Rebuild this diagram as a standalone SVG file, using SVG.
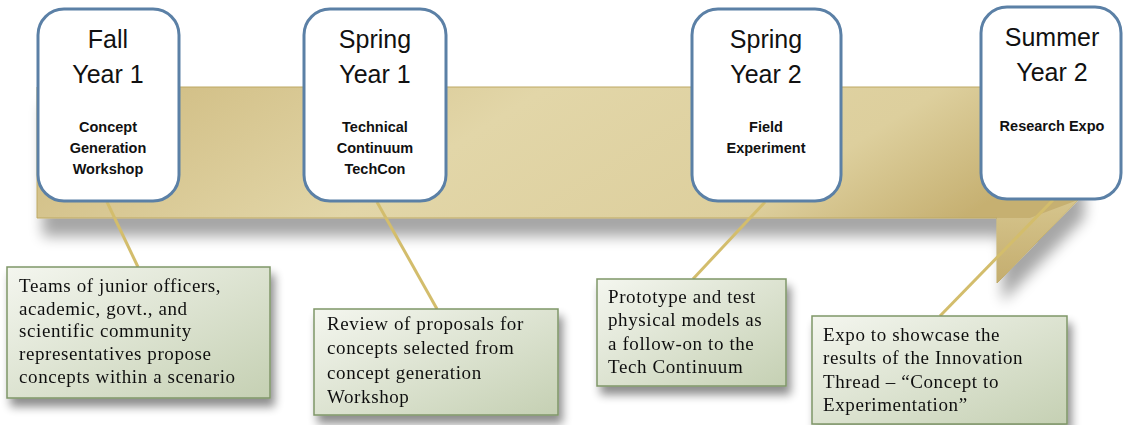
<svg xmlns="http://www.w3.org/2000/svg" width="1123" height="425" viewBox="0 0 1123 425">
<defs>
<linearGradient id="band" x1="0" y1="0" x2="1" y2="0.3">
<stop offset="0" stop-color="#cdb87c"/>
<stop offset="0.45" stop-color="#e2d6a8"/>
<stop offset="0.8" stop-color="#ddcf9d"/>
<stop offset="1" stop-color="#c6b071"/>
</linearGradient>
<linearGradient id="tail" x1="0" y1="0" x2="0" y2="1">
<stop offset="0" stop-color="#d6c58d"/>
<stop offset="1" stop-color="#c4ad6e"/>
</linearGradient>
<linearGradient id="note" x1="0" y1="0" x2="1" y2="1">
<stop offset="0" stop-color="#f4f6ef"/>
<stop offset="1" stop-color="#c5d0b3"/>
</linearGradient>
<filter id="shadow" x="-10%" y="-10%" width="130%" height="150%">
<feGaussianBlur in="SourceAlpha" stdDeviation="5"/>
<feOffset dx="4" dy="8" result="b"/>
<feComponentTransfer><feFuncA type="linear" slope="0.45"/></feComponentTransfer>
<feMerge><feMergeNode/><feMergeNode in="SourceGraphic"/></feMerge>
</filter>
<filter id="bandshadow" x="-5%" y="-10%" width="110%" height="180%">
<feGaussianBlur in="SourceAlpha" stdDeviation="7"/>
<feOffset dx="6" dy="18" result="b"/>
<feComponentTransfer><feFuncA type="linear" slope="0.35"/></feComponentTransfer>
<feMerge><feMergeNode/><feMergeNode in="SourceGraphic"/></feMerge>
</filter>
<style>
.box{fill:#ffffff;stroke:#5b80a6;stroke-width:3}
.head{font-family:"Liberation Sans",Arial,sans-serif;font-size:25px;fill:#111;text-anchor:middle}
.sub{font-family:"Liberation Sans",Arial,sans-serif;font-size:14.5px;font-weight:bold;fill:#111;text-anchor:middle}
.note{fill:url(#note);stroke:#7f9668;stroke-width:1.5}
.nt{font-family:"Liberation Serif","Times New Roman",serif;font-size:19px;letter-spacing:0.6px;fill:#111}
.conn{stroke:#d3bd6c;stroke-width:3;fill:none}
</style>
</defs>

<g id="band-shape" filter="url(#bandshadow)">
<path d="M37,87 L1078,87 L1078,200 L997,283 L997,218 L37,218 Z" fill="url(#band)" stroke="#bda862" stroke-width="1"/>
<path d="M997,218 L997,283 L1078,200 L1030,218 Z" fill="url(#tail)"/>
</g>

<g id="connectors">
<line class="conn" x1="107" y1="202" x2="138" y2="267"/>
<line class="conn" x1="377" y1="202" x2="437" y2="309"/>
<line class="conn" x1="765" y1="202" x2="693" y2="279"/>
<line class="conn" x1="1053" y1="200" x2="940" y2="316"/>
</g>

<g id="fall-year1">
<rect class="box" x="38" y="9" width="141" height="192" rx="26"/>
<text class="head" x="108" y="48">Fall</text>
<text class="head" x="108" y="83">Year 1</text>
<text class="sub" x="108" y="132">Concept</text>
<text class="sub" x="108" y="153">Generation</text>
<text class="sub" x="108" y="174">Workshop</text>
</g>

<g id="spring-year1">
<rect class="box" x="304" y="9" width="142" height="192" rx="26"/>
<text class="head" x="375" y="48">Spring</text>
<text class="head" x="375" y="83">Year 1</text>
<text class="sub" x="375" y="132">Technical</text>
<text class="sub" x="375" y="153">Continuum</text>
<text class="sub" x="375" y="174">TechCon</text>
</g>

<g id="spring-year2">
<rect class="box" x="692" y="9" width="149" height="192" rx="26"/>
<text class="head" x="766" y="48">Spring</text>
<text class="head" x="766" y="83">Year 2</text>
<text class="sub" x="766" y="132">Field</text>
<text class="sub" x="766" y="153">Experiment</text>
</g>

<g id="summer-year2">
<rect class="box" x="981" y="7" width="140" height="192" rx="26"/>
<text class="head" x="1052" y="46">Summer</text>
<text class="head" x="1052" y="81">Year 2</text>
<text class="sub" x="1052" y="131">Research Expo</text>
</g>

<g id="note1" filter="url(#shadow)">
<rect class="note" x="7" y="267" width="263" height="131"/>
<text class="nt" x="19" y="292">Teams of junior officers,</text>
<text class="nt" x="19" y="315">academic, govt., and</text>
<text class="nt" x="19" y="337">scientific community</text>
<text class="nt" x="19" y="360">representatives propose</text>
<text class="nt" x="19" y="383">concepts within a scenario</text>
</g>

<g id="note2" filter="url(#shadow)">
<rect class="note" x="314" y="309" width="244" height="106"/>
<text class="nt" x="327" y="330">Review of proposals for</text>
<text class="nt" x="327" y="354">concepts selected from</text>
<text class="nt" x="327" y="379">concept generation</text>
<text class="nt" x="327" y="403">Workshop</text>
</g>

<g id="note3" filter="url(#shadow)">
<rect class="note" x="597" y="279" width="189" height="107"/>
<text class="nt" x="608" y="303">Prototype and test</text>
<text class="nt" x="608" y="326">physical models as</text>
<text class="nt" x="608" y="350">a follow-on to the</text>
<text class="nt" x="608" y="373">Tech Continuum</text>
</g>

<g id="note4" filter="url(#shadow)">
<rect class="note" x="812" y="316" width="255" height="108"/>
<text class="nt" x="823" y="341">Expo to showcase the</text>
<text class="nt" x="823" y="364">results of the Innovation</text>
<text class="nt" x="823" y="388">Thread – “Concept to</text>
<text class="nt" x="823" y="411">Experimentation”</text>
</g>
</svg>
